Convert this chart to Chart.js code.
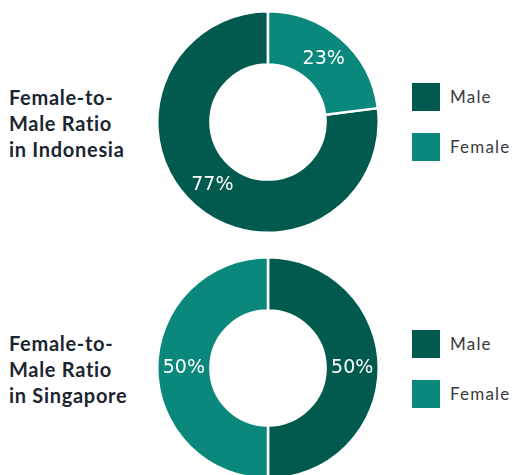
<!DOCTYPE html>
<html><head><meta charset="utf-8">
<script src="https://cdn.jsdelivr.net/npm/chart.js@4"></script>
<style>
html,body{margin:0;padding:0;width:515px;height:475px;overflow:hidden;background:#fff;}
.title{position:absolute;left:9px;font-family:Lato,sans-serif;font-weight:700;font-size:20px;line-height:26px;color:#1b2631;letter-spacing:0.7px;}
.cv{position:absolute;}
.legend{position:absolute;left:412px;font-family:Lato,sans-serif;font-size:17px;color:#3a3a3a;letter-spacing:1.2px;}
.item{position:absolute;left:0;height:28px;white-space:nowrap;}
.box{position:absolute;left:0;top:0;width:28px;height:28px;}
.lbl{position:absolute;left:38px;top:3px;line-height:22px;}
</style></head><body>
<div class="title" id="t1" style="top:84px">Female-to-<br>Male Ratio<br>in Indonesia</div>
<div class="title" id="t2" style="top:330px">Female-to-<br>Male Ratio<br>in Singapore</div>
<canvas class="cv" id="c1" width="224" height="224" style="left:156px;top:10px"></canvas>
<canvas class="cv" id="c2" width="224" height="224" style="left:156px;top:256px"></canvas>
<div class="legend" id="l1" style="top:83px"></div>
<div class="legend" id="l2" style="top:330px"></div>
<script>
const categories = ["Male", "Female"];
const indonesiaValues = [77, 23];
const singaporeValues = [50, 50];
const colors = ["#025a4e", "#0a887b"];

const labelPlugin = {
  id: 'pctLabels',
  afterDatasetsDraw(chart) {
    const ctx = chart.ctx;
    const ds = chart.data.datasets[0];
    const meta = chart.getDatasetMeta(0);
    ctx.save();
    ctx.font = '19px "DejaVu Sans"';
    ctx.fillStyle = '#ffffff';
    ctx.textAlign = 'center';
    ctx.textBaseline = 'middle';
    meta.data.forEach((arc, i) => {
      const p = arc.tooltipPosition();
      ctx.fillText(ds.data[i] + '%', p.x, p.y);
    });
    ctx.restore();
  }
};

function makeChart(id, values, femaleFirst) {
  const total = values.reduce((a, b) => a + b, 0);
  new Chart(document.getElementById(id), {
    type: 'doughnut',
    data: { labels: categories, datasets: [{ data: values, backgroundColor: colors, borderColor: '#ffffff', borderWidth: 2.5, hoverOffset: 0 }] },
    options: {
      responsive: false, animation: false,
      rotation: femaleFirst ? values[1] / total * 360 : 0,
      cutout: '52%',
      layout: { padding: 0 },
      plugins: { legend: { display: false }, tooltip: { enabled: false } }
    },
    plugins: [labelPlugin]
  });
}
function makeLegend(id) {
  const el = document.getElementById(id);
  categories.forEach((c, i) => {
    const it = document.createElement('div');
    it.className = 'item';
    it.style.top = (i * 50) + 'px';
    it.innerHTML = '<div class="box" style="background:' + colors[i] + '"></div><div class="lbl">' + c + '</div>';
    el.appendChild(it);
  });
}
makeChart('c1', indonesiaValues, true);
makeChart('c2', singaporeValues, false);
makeLegend('l1');
makeLegend('l2');
</script>
</body></html>
